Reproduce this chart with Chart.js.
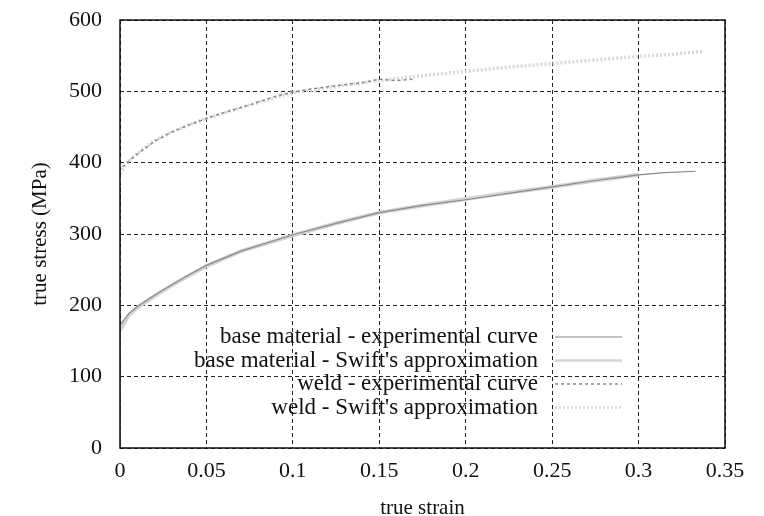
<!DOCTYPE html>
<html>
<head>
<meta charset="utf-8">
<script src="https://cdn.jsdelivr.net/npm/chart.js@4"></script>
<style>
  html, body { margin: 0; padding: 0; background: #ffffff; }
  #wrap { width: 764px; height: 516px; position: relative; }
</style>
</head>
<body>
<div id="wrap"><canvas id="stress-chart"></canvas></div>
<script>
// values
var baseExpStrain   = [0, 0, 0.005, 0.01, 0.02, 0.03, 0.04, 0.05, 0.07, 0.1, 0.125, 0.15, 0.175, 0.2, 0.225, 0.25, 0.275, 0.3, 0.315, 0.333];
var baseExpStress   = [0, 172, 188, 198, 214, 229, 243, 256, 276, 299, 315, 330, 340, 348, 357, 366, 375, 383, 386, 388];

var baseSwiftStrain = [0, 0.005, 0.01, 0.02, 0.03, 0.04, 0.05, 0.07, 0.1, 0.125, 0.15, 0.175, 0.2, 0.225, 0.25, 0.275, 0.3];
var baseSwiftStress = [165, 186, 197, 213, 228, 242, 255, 276, 298, 315, 330, 340, 349, 358, 366, 375, 383];

var weldExpStrain   = [0, 0, 0.002, 0.005, 0.01, 0.02, 0.03, 0.04, 0.05, 0.06, 0.075, 0.09, 0.1, 0.11, 0.125, 0.14, 0.15, 0.16, 0.17];
var weldExpStress   = [0, 390, 395, 402, 412, 430, 443, 453, 462, 470, 481, 493, 499, 503, 508, 512, 517, 515, 517];

var weldSwiftStrain = [0, 0.005, 0.01, 0.02, 0.03, 0.04, 0.05, 0.075, 0.1, 0.125, 0.15, 0.175, 0.2, 0.225, 0.25, 0.275, 0.3, 0.32, 0.337];
var weldSwiftStress = [385, 402, 413, 431, 443, 453, 462, 481, 498, 507, 515, 522, 528, 534, 539, 544, 549, 552, 556];

var seriesLabels = [
    'base material - experimental curve',
    "base material - Swift's approximation",
    'weld - experimental curve',
    "weld - Swift's approximation"
];

var xTicks = [0, 0.05, 0.1, 0.15, 0.2, 0.25, 0.3, 0.35];
var yTicks = [0, 100, 200, 300, 400, 500, 600];

function toPoints(xs, ys){
    let pts = [];
    for(let i=0; i<xs.length; i++){
        pts.push({x: xs[i], y: ys[i]});
    }
    return pts;
}

const serifFont = "'Liberation Serif', 'DejaVu Serif', serif";

const stressData = {
    datasets: [
        {
            label: seriesLabels[0],
            data: toPoints(baseExpStrain, baseExpStress),
            borderColor: '#8a8a8a',
            borderWidth: 1.2,
            order: 1
        },
        {
            label: seriesLabels[1],
            data: toPoints(baseSwiftStrain, baseSwiftStress),
            borderColor: '#d4d4d4',
            borderWidth: 4,
            order: 2
        },
        {
            label: seriesLabels[2],
            data: toPoints(weldExpStrain, weldExpStress),
            borderColor: '#8a8a8a',
            borderWidth: 1.5,
            borderDash: [3, 3],
            order: 1
        },
        {
            label: seriesLabels[3],
            data: toPoints(weldSwiftStrain, weldSwiftStress),
            borderColor: '#d8d8d8',
            borderWidth: 3.5,
            borderDash: [2, 2],
            order: 2
        }
    ]
};

// gnuplot style legend inside the plot, text right aligned, sample to the right
const insideLegend = {
    id: 'insideLegend',
    afterDraw(chart){
        const ctx = chart.ctx;
        const rowsY = [337, 360.5, 384, 407.5];
        ctx.save();
        ctx.font = '23px ' + serifFont;
        ctx.fillStyle = '#111111';
        ctx.textAlign = 'right';
        ctx.textBaseline = 'middle';
        chart.data.datasets.forEach(function(ds, i){
            ctx.fillText(ds.label, 538, rowsY[i]);
            ctx.beginPath();
            ctx.strokeStyle = ds.borderColor;
            ctx.lineWidth = Math.min(ds.borderWidth, 2.5);
            ctx.setLineDash(ds.borderDash || []);
            ctx.moveTo(555, rowsY[i]);
            ctx.lineTo(622, rowsY[i]);
            ctx.stroke();
        });
        // frame round the plot
        const a = chart.chartArea;
        ctx.setLineDash([]);
        ctx.strokeStyle = '#111111';
        ctx.lineWidth = 1.5;
        ctx.strokeRect(a.left, a.top, a.right - a.left, a.bottom - a.top);
        ctx.restore();
    }
};

const stressChart = new Chart(document.getElementById('stress-chart'), {
    type: 'scatter',
    data: stressData,
    plugins: [insideLegend],
    options: {
        responsive: true,
        maintainAspectRatio: false,
        animation: false,
        showLine: true,
        elements: {
            point: { radius: 0 },
            line: { tension: 0 }
        },
        layout: {
            padding: { left: 0, top: 20, right: 39, bottom: 0 }
        },
        plugins: {
            legend: { display: false },
            tooltip: { enabled: false }
        },
        scales: {
            x: {
                type: 'linear',
                min: 0,
                max: 0.35,
                afterFit: function(scale){
                    scale.height = 68;
                    scale.paddingLeft = 0;
                    scale.paddingRight = 0;
                },
                afterBuildTicks: function(scale){
                    scale.ticks = xTicks.map(v => ({value: v}));
                },
                grid: {
                    color: '#222222',
                    drawTicks: false
                },
                border: { display: false, dash: [4, 3] },
                ticks: {
                    padding: 10,
                    color: '#111111',
                    font: { family: serifFont, size: 22 },
                    callback: function(v){ return String(+v.toFixed(2)); }
                },
                title: {
                    display: true,
                    text: 'true strain',
                    color: '#111111',
                    font: { family: serifFont, size: 21 },
                    padding: { top: 0, bottom: -5 }
                }
            },
            y: {
                type: 'linear',
                min: 0,
                max: 600,
                afterFit: function(scale){
                    scale.width = 120;
                    scale.paddingTop = 0;
                    scale.paddingBottom = 0;
                },
                afterBuildTicks: function(scale){
                    scale.ticks = yTicks.map(v => ({value: v}));
                },
                grid: {
                    color: '#222222',
                    drawTicks: false
                },
                border: { display: false, dash: [4, 3] },
                ticks: {
                    padding: 18,
                    color: '#111111',
                    font: { family: serifFont, size: 22 }
                },
                title: {
                    display: true,
                    text: 'true stress (MPa)',
                    color: '#111111',
                    font: { family: serifFont, size: 21 },
                    padding: { top: 28, bottom: 0 }
                }
            }
        }
    }
});
</script>
</body>
</html>
